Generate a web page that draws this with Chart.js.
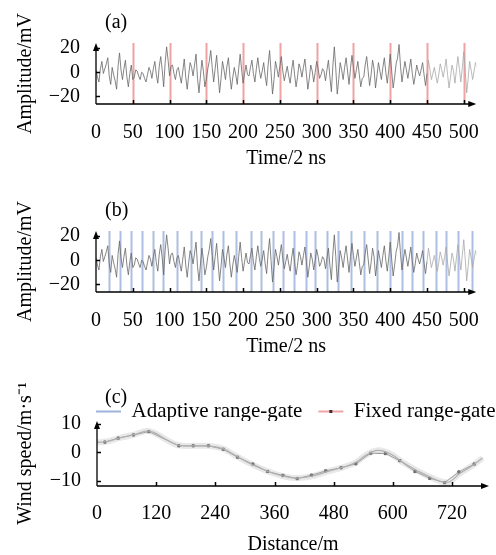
<!DOCTYPE html>
<html>
<head>
<meta charset="utf-8">
<script src="https://cdn.jsdelivr.net/npm/chart.js@4.4.1/dist/chart.umd.min.js"></script>
<style>
  html, body { margin: 0; padding: 0; background: #fff; overflow: hidden; }
  #wrap { position: relative; width: 496px; height: 555px; overflow: hidden; }
  .panel { position: absolute; left: 0; width: 496px; }
</style>
</head>
<body>
<div id="wrap">
  <div class="panel" style="top:0;height:174px"><canvas id="chartA"></canvas></div>
  <div class="panel" style="top:188px;height:174px"><canvas id="chartB"></canvas></div>
  <div class="panel" style="top:372px;height:185px"><canvas id="chartC"></canvas></div>
</div>
<script>
// raw echo signal (mV), one value every 2 x 2 ns
const sampleStep = 2;
const echoSignal = [
  2, -4, -8, 3, 9, -1, 3, 7, 12, -3, -10, 4, -2, -7, -14, 5, 16, 2, -6, 3, 10, -4, -12, -1, 6, -6,
  -4, 2, 1, -3, -6, 0, -1, -5, -8, -2, 4, 1, -5, 3, 9, -2, -9, 5, 13, 2, -12, 8, 21, 10, -3, 5,
  6, -1, -6, 2, 4, -3, -9, 1, 11, -4, -14, -2, 8, 4, -3, 6, 15, -5, -17, -3, 10, 1, -12, -6, 3, 9,
  18, 4, -8, 3, 14, -2, -17, -5, 9, 2, -6, 5, 12, -3, -14, -4, 4, -2, -10, 3, 15, 2, -9, -1, 6, -2,
  -3, 4, 10, -1, -8, 3, 12, 2, -5, 1, 8, -3, -11, 6, 18, 0, -18, -6, 9, 3, -4, 5, 13, 1, -7, -1,
  5, -3, -9, 2, 10, -2, -12, -4, 7, 3, -4, 4, 11, -1, -14, -5, 6, 1, -8, 0, 9, 3, -5, -2, 3, 1,
  -7, 2, 10, -4, -16, 5, 21, 3, -18, -6, 8, 2, -6, 4, 12, 1, -10, 3, 14, 4, -5, 2, 9, -2, -12, -5,
  -4, 6, 13, 1, -11, -2, 10, 3, -13, -3, 8, 1, -6, 4, 12, 0, -9, 2, 15, 1, -13, -4, 7, 12, 23, 5,
  -8, 1, 9, 2, -5, 3, 11, -1, -10, -3, 6, 1, -3, 2, 8, -2, -11, -1, 10, 2, -6, -1, 4, -3, -9, -2,
  7, 2, -4, 3, 11, -2, -13, -4, 6, 1, -9, 2, 13, 3, -8, 4, 17, 1, -17, -5, 9, 2, -6, 1, 8, 4
];
const fixedGates = [50, 100, 150, 200, 250, 300, 350, 400, 450, 500];
const adaptiveGates = [17, 32, 48, 63, 77, 91, 110, 129, 143, 158, 173, 191, 211, 225, 240, 254,
  269, 285, 298, 314, 329, 347, 365, 382, 400, 416, 429, 444, 462, 476, 492, 511];
const timeTicks = [0, 50, 100, 150, 200, 250, 300, 350, 400, 450, 500];
const ampTicks = [-20, 0, 20];

// wind speed profile
const adaptDist = [0, 20, 45, 75, 100, 115, 140, 165, 200, 230, 255, 275, 300, 330, 360, 390, 410,
  440, 470, 500, 525, 545, 565, 580, 600, 620, 650, 680, 700, 715, 735, 760, 782];
const adaptSpeed = [3.5, 3.8, 5.0, 6.2, 7.5, 7.0, 4.5, 2.5, 2.3, 2.2, 1.3, -0.5, -3.0, -5.5, -7.5, -8.8, -9.0,
  -8.2, -6.6, -5.2, -3.5, -1.0, 0.6, 0.5, -1.0, -3.5, -6.5, -9.0, -10.3, -10.3, -7.5, -4.8, -2.0];
const fixedDist = [16, 43, 74, 105, 166, 195, 226, 256, 285, 316, 346, 377, 406, 435, 464, 495,
  525, 555, 585, 614, 645, 675, 705, 734, 765];
const fixedSpeed = [3.6, 5.0, 6.1, 7.3, 2.3, 2.3, 2.3, 1.1, -1.7, -4.1, -6.7, -8.1, -9.2, -8.0, -6.5, -5.4,
  -4.0, -0.3, -0.4, -2.9, -6.7, -9.1, -10.6, -6.9, -4.1];
const distTicks = [0, 120, 240, 360, 480, 600, 720];
const speedTicks = [-10, 0, 10];

const serif = '"Liberation Serif", "Times New Roman", serif';
Chart.defaults.font.family = serif;
Chart.defaults.font.size = 20;
Chart.defaults.color = '#000';
Chart.defaults.animation = false;

const minusFmt = v => (v < 0 ? '\u2212' + Math.abs(v) : '' + v);
const titleFont = { size: 20, weight: 400, lineHeight: 1.2 };

// vertical range-gate markers
const gateLines = {
  id: 'gateLines',
  beforeDatasetsDraw(chart, args, opts) {
    if (!opts.gates) return;
    const { ctx, chartArea, scales: { x } } = chart;
    ctx.save();
    ctx.strokeStyle = opts.color;
    ctx.lineWidth = opts.width;
    opts.gates.forEach(g => {
      const px = Math.round(x.getPixelForValue(g)) + 0.5;
      ctx.beginPath();
      ctx.moveTo(px, chartArea.top);
      ctx.lineTo(px, chartArea.bottom);
      ctx.stroke();
    });
    ctx.restore();
  }
};

// axis lines with arrows, inward ticks and panel letter
const axisDecor = {
  id: 'axisDecor',
  afterLayout(chart, args, opts) {
    if (opts.legendLeft != null && chart.legend) {
      const dx = opts.legendLeft - chart.legend.left;
      chart.legend.left += dx;
      chart.legend.right += dx;
    }
  },
  afterDatasetsDraw(chart, args, opts) {
    const { ctx, chartArea: { left, right, top, bottom }, scales: { x, y } } = chart;
    ctx.save();
    ctx.strokeStyle = '#000';
    ctx.fillStyle = '#000';
    ctx.lineWidth = 1.3;
    ctx.beginPath();
    ctx.moveTo(left, bottom);
    ctx.lineTo(right - 5, bottom);
    ctx.moveTo(left, bottom);
    ctx.lineTo(left, top + 5);
    ctx.stroke();
    ctx.beginPath();
    ctx.moveTo(right, bottom);
    ctx.lineTo(right - 8, bottom - 3);
    ctx.lineTo(right - 8, bottom + 3);
    ctx.closePath();
    ctx.fill();
    ctx.beginPath();
    ctx.moveTo(left, top);
    ctx.lineTo(left - 3, top + 8);
    ctx.lineTo(left + 3, top + 8);
    ctx.closePath();
    ctx.fill();

    ctx.lineWidth = 1.5;
    ctx.beginPath();
    x.ticks.forEach((t, i) => {
      if (t.value === 0) return;
      const px = Math.round(x.getPixelForTick(i)) + 0.5;
      ctx.moveTo(px, bottom);
      ctx.lineTo(px, bottom - 4);
    });
    y.ticks.forEach((t, i) => {
      const py = Math.round(y.getPixelForTick(i)) + 0.5;
      ctx.moveTo(left, py);
      ctx.lineTo(left + 4, py);
    });
    ctx.stroke();

    ctx.font = '20px ' + serif;
    ctx.textBaseline = 'middle';
    ctx.fillText(opts.label, opts.labelX, opts.labelY);

    // dark marker inside the fixed range-gate legend line
    if (chart.legend && chart.legend.options.display) {
      const lg = chart.legend;
      const items = lg.legendItems;
      const pad = lg.options.labels.padding;
      const bw = lg.options.labels.boxWidth;
      const fs = lg.options.labels.font.size;
      ctx.font = fs + 'px ' + serif;
      const w0 = bw + fs / 2 + ctx.measureText(items[0].text).width;
      const bx = lg.left + pad + w0 + pad + bw / 2;
      const by = lg.top + pad + fs / 2;
      ctx.fillStyle = '#333';
      ctx.fillRect(bx - 1.5, by - 1.5, 3, 3);
    }
    ctx.restore();
  }
};

function signalPanel(id, label, gates, gateColor, gateWidth) {
  new Chart(document.getElementById(id), {
    type: 'line',
    data: {
      datasets: [{
        data: echoSignal.map((v, i) => ({ x: i * sampleStep, y: v })),
        borderWidth: 0.8,
        borderColor: '#666',
        segment: { borderColor: c => (c.p0.parsed.x >= 450 ? '#a8a8a8' : '#666') },
        pointRadius: 0,
        tension: 0
      }]
    },
    options: {
      responsive: true,
      maintainAspectRatio: false,
      layout: { padding: { top: 43, left: 9, right: 7, bottom: 0 } },
      plugins: {
        legend: { display: false },
        tooltip: { enabled: false },
        gateLines: { gates: gates, color: gateColor, width: gateWidth },
        axisDecor: { label: label, labelX: 105, labelY: 23 }
      },
      scales: {
        x: {
          type: 'linear', min: 0, max: 517,
          grid: { display: false, drawTicks: false },
          border: { display: false },
          afterBuildTicks: s => { s.ticks = timeTicks.map(v => ({ value: v })); },
          afterFit: s => { s.height = 70; },
          ticks: { padding: 17, maxRotation: 0, callback: minusFmt },
          title: { display: true, text: 'Time/2 ns', font: titleFont, padding: { top: 4, bottom: 3 } }
        },
        y: {
          min: -26.2, max: 24.2,
          grid: { display: false, drawTicks: false },
          border: { display: false },
          afterBuildTicks: s => { s.ticks = ampTicks.map(v => ({ value: v })); },
          afterFit: s => { s.width = 87; },
          ticks: { padding: 16, callback: minusFmt },
          title: { display: true, text: 'Amplitude/mV', font: titleFont, padding: { top: 5, bottom: 4 } }
        }
      }
    },
    plugins: [gateLines, axisDecor]
  });
}

signalPanel('chartA', '(a)', fixedGates, 'rgba(236,140,140,0.8)', 2);
signalPanel('chartB', '(b)', adaptiveGates, 'rgba(130,155,210,0.65)', 2);

new Chart(document.getElementById('chartC'), {
  type: 'line',
  data: {
    datasets: [{
      label: 'band',
      data: adaptDist.map((d, i) => ({ x: d, y: adaptSpeed[i] })),
      borderColor: 'rgba(205,205,205,0.45)',
      borderWidth: 6,
      pointRadius: 0,
      tension: 0.4
    }, {
      label: 'Adaptive range-gate',
      data: adaptDist.map((d, i) => ({ x: d, y: adaptSpeed[i] })),
      borderColor: '#9a9a9a',
      borderWidth: 1.2,
      pointRadius: 0,
      tension: 0.4
    }, {
      label: 'Fixed range-gate',
      data: fixedDist.map((d, i) => ({ x: d, y: fixedSpeed[i] })),
      borderColor: '#808080',
      borderWidth: 1,
      pointRadius: 1.6,
      pointStyle: 'rect',
      pointBackgroundColor: '#333',
      pointBorderColor: '#333',
      tension: 0
    }]
  },
  options: {
    responsive: true,
    maintainAspectRatio: false,
    layout: { padding: { top: 13, left: 9, right: 7, bottom: 0 } },
    plugins: {
      tooltip: { enabled: false },
      legend: {
        display: true,
        position: 'top',
        align: 'start',
        maxHeight: 36,
        labels: {
          boxWidth: 25,
          boxHeight: 2,
          padding: 16,
          font: { size: 21 },
          generateLabels: () => [
            { text: 'Adaptive range-gate', fillStyle: '#9fb3dc', strokeStyle: '#9fb3dc', lineWidth: 0, hidden: false, datasetIndex: 1 },
            { text: 'Fixed range-gate', fillStyle: '#f0a4a4', strokeStyle: '#f0a4a4', lineWidth: 0, hidden: false, datasetIndex: 2 }
          ]
        }
      },
      axisDecor: { label: '(c)', labelX: 105, labelY: 26, legendLeft: 80 }
    },
    scales: {
      x: {
        type: 'linear', min: 0, max: 795,
        grid: { display: false, drawTicks: false },
        border: { display: false },
        afterBuildTicks: s => { s.ticks = distTicks.map(v => ({ value: v })); },
        afterFit: s => { s.height = 71; },
        ticks: { padding: 16, maxRotation: 0, callback: minusFmt },
        title: { display: true, text: 'Distance/m', font: titleFont, padding: { top: 0, bottom: 0 } }
      },
      y: {
        min: -11.8, max: 11,
        grid: { display: false, drawTicks: false },
        border: { display: false },
        afterBuildTicks: s => { s.ticks = speedTicks.map(v => ({ value: v })); },
        afterFit: s => { s.width = 88; },
        ticks: { padding: 16, callback: minusFmt },
        title: { display: true, text: 'Wind speed/m\u00b7s\u207b\u00b9', font: titleFont, padding: { top: 5, bottom: 4 } }
      }
    }
  },
  plugins: [axisDecor]
});
</script>
</body>
</html>
